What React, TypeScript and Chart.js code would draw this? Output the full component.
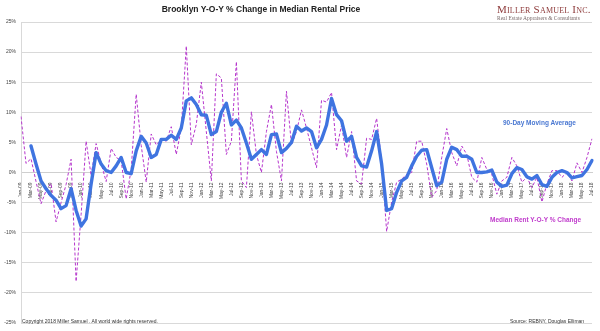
import React, { useEffect, useRef } from 'react';
import { Chart, registerables } from 'chart.js';

Chart.register(...registerables);

const MONTHS = ['Jan', 'Feb', 'Mar', 'Apr', 'May', 'Jun', 'Jul', 'Aug', 'Sep', 'Oct', 'Nov', 'Dec'];
const YEARS = ['09', '10', '11', '12', '13', '14', '15', '16', '17', '18'];
const LAST_MONTH_COUNT = 7; // 2018 runs through Jul

const CATEGORIES: string[] = [];
YEARS.forEach((yy, yi) => {
  const n = yi === YEARS.length - 1 ? LAST_MONTH_COUNT : 12;
  for (let m = 0; m < n; m++) CATEGORIES.push(`${MONTHS[m]}-${yy}`);
});

const MEDIAN_RENT_YOY = [
  9.3, 1.5, 2.3, -1.5, -5.2, -3.0, -1.8, -8.2, -5.0, -2.0, 2.2, -18.1,
  -7.0, 5.2, -0.5, 4.8, 1.5, -1.5, 4.0, 2.5, 2.0, -4.4, 0.5, 13.0,
  4.5, -1.6, 6.4, 4.6, 5.5, 5.2, 7.6, 3.0, 7.4, 21.0, 4.6, 8.0,
  15.0, 6.8, -1.4, 16.4, 15.7, 3.0, 5.2, 18.4, -1.4, -2.5, 10.1, 3.0,
  0.0, 6.8, 11.3, 3.5, -1.4, 13.5, 4.6, 6.8, 10.4, 7.4, 4.1, 0.8,
  12.0, 11.7, 13.3, 3.8, 7.9, 2.5, 6.8, -1.4, -1.9, 5.7, 5.5, 9.0,
  1.9, -9.8, -4.9, -1.6, -1.1, -0.3, 0.0, 5.2, 5.2, 1.4, -4.1, -3.0,
  2.5, 7.3, 3.3, 1.1, 4.4, 3.0, -0.8, -1.6, 2.5, 0.5, -0.3, -3.6,
  -1.4, -0.8, 2.5, 1.1, -1.6, -0.8, -2.5, -0.8, -4.9, -1.9, 0.3, 0.3,
  -0.8, 0.0, -1.4, 1.6, 0.0, 2.5, 5.6,
];

const MOVING_AVG_90D = [
  null, null, 4.4, 1.4, -1.4, -2.7, -3.8, -4.6, -6.0, -5.5, -2.7, -6.3,
  -8.9, -7.7, -1.9, 3.3, 1.4, 0.3, 0.0, 1.1, 2.5, 0.0, -0.2, 3.6,
  6.0, 4.9, 2.5, 3.0, 5.5, 5.5, 6.2, 5.5, 7.4, 11.9, 12.4, 11.3,
  9.6, 9.5, 6.3, 6.8, 10.0, 11.5, 7.9, 8.7, 7.4, 4.9, 2.2, 3.0,
  3.8, 3.0, 6.3, 6.4, 3.3, 4.0, 5.0, 7.7, 6.9, 7.4, 6.8, 4.1,
  5.5, 7.9, 12.3, 9.6, 8.6, 5.2, 6.0, 2.5, 1.1, 0.9, 3.6, 6.8,
  1.4, -6.3, -6.0, -3.3, -1.4, -0.8, 1.1, 2.7, 3.7, 3.8, 0.8, -2.2,
  -1.6, 2.2, 4.2, 3.8, 2.7, 2.7, 2.2, 0.0, 0.0, 0.1, 0.4, -1.6,
  -2.3, -2.1, -0.2, 0.8, 0.5, -0.7, -1.1, -0.5, -2.0, -2.3, -0.8, 0.0,
  0.3, 0.0, -0.9, -0.7, -0.5, 0.5, 2.0,
];

const Y_MIN = -25;
const Y_MAX = 25;
const Y_STEP = 5;

const TITLE = 'Brooklyn Y-O-Y % Change in Median Rental Price';
const MA_LABEL = '90-Day Moving Average';
const YOY_LABEL = 'Median Rent Y-O-Y % Change';

const abs = (s: React.CSSProperties): React.CSSProperties => ({ position: 'absolute', whiteSpace: 'nowrap', margin: 0, ...s });

export default function App() {
  const ref = useRef<HTMLCanvasElement>(null);

  useEffect(() => {
    document.body.style.margin = '0';
    const chart = new Chart(ref.current!, {
      type: 'line',
      data: {
        labels: CATEGORIES,
        datasets: [
          {
            label: MA_LABEL,
            data: MOVING_AVG_90D,
            borderColor: '#3f74e0',
            borderWidth: 3.4,
            pointRadius: 0,
            tension: 0,
            borderJoinStyle: 'round',
            borderCapStyle: 'round',
            spanGaps: false,
          },
          {
            label: YOY_LABEL,
            data: MEDIAN_RENT_YOY,
            borderColor: '#b535cc',
            borderWidth: 1,
            borderDash: [3, 2],
            pointRadius: 0,
            tension: 0,
          },
        ],
      },
      options: {
        animation: false,
        responsive: false,
        layout: { padding: { top: 22, right: 5, bottom: 0, left: 1 } },
        plugins: { legend: { display: false }, tooltip: { enabled: false }, title: { display: false } },
        scales: {
          x: {
            type: 'category',
            position: { y: 0 } as any,
            offset: false,
            grid: { display: false },
            border: { display: true, color: '#cfcfcf', width: 1 },
            ticks: {
              autoSkip: false,
              maxRotation: 90,
              minRotation: 90,
              padding: 2,
              color: '#444',
              font: { family: 'Liberation Sans', size: 5 },
              callback: (_v: any, i: number) => (i % 2 === 0 ? CATEGORIES[i] : ''),
            },
          },
          y: {
            min: Y_MIN,
            max: Y_MAX,
            grid: { color: '#d9d9d9', lineWidth: 1, drawTicks: false },
            border: { display: true, color: '#d9d9d9' },
            ticks: {
              stepSize: Y_STEP,
              padding: 5,
              color: '#444',
              font: { family: 'Liberation Sans', size: 5 },
              callback: (v: any) => `${v}%`,
            },
            afterFit: (s: any) => {
              s.width = 20;
            },
          },
        },
      },
    });
    return () => chart.destroy();
  }, []);

  return (
    <div style={{ position: 'relative', width: 600, height: 331, background: '#fff', overflow: 'hidden', fontFamily: 'Liberation Sans, Arial, sans-serif' }}>
      <canvas ref={ref} width={600} height={331} style={{ display: 'block' }} />
      <div style={abs({ left: 0, width: 522, top: 4, textAlign: 'center', fontWeight: 'bold', fontSize: 8.5, color: '#222' })}>{TITLE}</div>
      <div style={abs({ left: 497, top: 3, fontFamily: 'Liberation Serif, serif', fontVariant: 'small-caps', fontSize: 11, color: '#8e3b3b', letterSpacing: 0.2 })}>Miller Samuel Inc.</div>
      <div style={abs({ left: 497, top: 15, fontFamily: 'Liberation Serif, serif', fontSize: 5.5, color: '#7a6a6a' })}>Real Estate Appraisers &amp; Consultants</div>
      <div style={abs({ left: 503, top: 119, fontWeight: 'bold', fontSize: 6.5, color: '#4a78d2' })}>{MA_LABEL}</div>
      <div style={abs({ left: 490, top: 216, fontWeight: 'bold', fontSize: 6.5, color: '#c03ccc' })}>{YOY_LABEL}</div>
      <div style={abs({ left: 22, top: 318, fontSize: 5, color: '#333' })}>Copyright 2018 Miller Samuel . All world wide rights reserved.</div>
      <div style={abs({ left: 510, top: 318, fontSize: 5, color: '#333' })}>Source: REBNY, Douglas Elliman</div>
    </div>
  );
}
